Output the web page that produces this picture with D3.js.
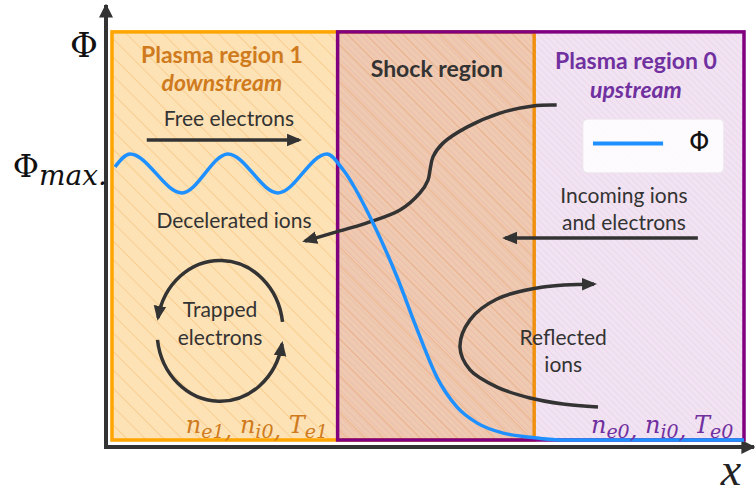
<!DOCTYPE html>
<html>
<head>
<meta charset="utf-8">
<script src="https://cdn.jsdelivr.net/npm/d3@7"></script>
<style>
  body { margin: 0; background: #fff; }
  svg { display: block; }
</style>
</head>
<body>
<script>
    // potential profile across the shock, x in % of the box, phi normalised to phi_max
    const phiX = [0.47, 2.85, 11.08, 18.35, 26.27, 34.0, 36.6, 41.3, 45.1, 48.3, 51.4, 54.6, 57.8, 61.9, 66.1, 70.9, 100];
    const phiY = [0.955, 1.0, 0.864, 1.0, 0.864, 1.0, 0.944, 0.759, 0.570, 0.385, 0.220, 0.115, 0.059, 0.024, 0.010, 0, 0];

    // regions (x extent of the two overlapping boxes)
    const downstreamBox = [0, 66.8];
    const upstreamBox = [35.7, 100];
    const boxTop = 1.427;

    const regionTitles = ["Plasma region 1", "Shock region", "Plasma region 0"];
    const regionSubtitles = ["downstream", "", "upstream"];
    const titleX = [17.4, 51.4, 82.9];
    const titleY = [1.318, 1.269, 1.297];
    const subtitleY = [1.220, 0, 1.196];

    // plain annotations
    const noteText = ["Free electrons", "Decelerated ions", "Trapped", "electrons",
                      "Incoming ions", "and electrons", "Reflected", "ions"];
    const noteX = [18.5, 19.3, 17.1, 17.1, 81.0, 81.0, 71.4, 71.4];
    const noteY = [1.098, 0.741, 0.430, 0.332, 0.829, 0.734, 0.332, 0.238];

    // arrows
    const freeArrow = [[5.5, 1.049], [29.6, 1.049]];
    const incomingArrow = [[92.7, 0.706], [62.2, 0.706]];
    const deceleratedArrow = [[70.36, 1.171], [66.61, 1.168], [61.39, 1.143], [56.17, 1.094], [52.37, 1.038],
        [50.79, 0.990], [50.32, 0.944], [50.0, 0.909], [48.73, 0.864], [45.57, 0.804], [40.35, 0.759],
        [34.97, 0.724], [30.54, 0.696]];
    const reflectedArrow = [[76.9, 0.115], [71.36, 0.126], [66.14, 0.147], [60.92, 0.185], [56.65, 0.245],
        [55.06, 0.325], [56.65, 0.420], [60.92, 0.493], [68.2, 0.535], [76.27, 0.545]];
    // trapped electrons loop: ellipse centre / radii and the two arcs
    const trapCentre = [17.09, 0.381];
    const trapRadii = [9.97, 0.245];
    const trapArcs = [[[26.98, 0.413], [7.28, 0.427]], [[7.2, 0.350], [26.9, 0.336]]];

    // plasma parameters: [symbol, subscript]
    const paramsDown = [["n", "e1"], ["n", "i0"], ["T", "e1"]];
    const paramsUp = [["n", "e0"], ["n", "i0"], ["T", "e0"]];
    const paramsRight = [34.2, 98.3];
    const paramsBase = 0.024;

    // legend
    const legendBox = [[74.5, 1.122], [96.8, 0.934]];
    const legendLine = [[76.1, 1.037], [87.2, 1.037]];

    const width = 756, height = 498;
    const orange = "#ffa500", purple = "#800080", dark = "#333333";
    const orangeText = "#cf7b1d", purpleText = "#7030a0", blue = "#1e90ff";
    const sans = "Lato, 'Open Sans', sans-serif";

    const x = d3.scaleLinear().domain([0, 100]).range([112, 744]);
    const y = d3.scaleLinear().domain([0, 1]).range([440, 154]);

    const svg = d3.select("body").append("svg")
        .attr("width", width)
        .attr("height", height);

    const defs = svg.append("defs");
    defs.append("pattern")
        .attr("id", "hatchOrange")
        .attr("patternUnits", "userSpaceOnUse")
        .attr("width", 13).attr("height", 13)
        .attr("patternTransform", "rotate(-45)")
        .append("line")
            .attr("x1", 0).attr("y1", 0).attr("x2", 0).attr("y2", 13)
            .attr("stroke", "#f7c27a").attr("stroke-width", 1.3);
    defs.append("pattern")
        .attr("id", "hatchPurple")
        .attr("patternUnits", "userSpaceOnUse")
        .attr("width", 4.5).attr("height", 4.5)
        .attr("patternTransform", "rotate(-45)")
        .append("line")
            .attr("x1", 0).attr("y1", 0).attr("x2", 0).attr("y2", 4.5)
            .attr("stroke", "rgba(128,0,128,0.07)").attr("stroke-width", 1.3);
    defs.append("marker")
        .attr("id", "head")
        .attr("viewBox", "0 0 10 10")
        .attr("refX", 8).attr("refY", 5)
        .attr("markerUnits", "userSpaceOnUse")
        .attr("markerWidth", 15).attr("markerHeight", 15)
        .attr("orient", "auto")
        .append("path")
            .attr("d", "M0,0.8 L10,5 L0,9.2 Z")
            .attr("fill", dark);
    defs.append("marker")
        .attr("id", "axisHead")
        .attr("viewBox", "0 0 10 10")
        .attr("refX", 9).attr("refY", 5)
        .attr("markerUnits", "userSpaceOnUse")
        .attr("markerWidth", 14).attr("markerHeight", 15)
        .attr("orient", "auto")
        .append("path")
            .attr("d", "M0,0 L10,5 L0,10 Z")
            .attr("fill", dark);

    // boxes
    drawBox(downstreamBox, "#fde2b6", "url(#hatchOrange)", orange);
    drawBox(upstreamBox, "rgba(128,0,128,0.11)", "url(#hatchPurple)", purple);

    function drawBox(ext, fill, hatch, stroke) {
        let r = { x: x(ext[0]), y: y(boxTop), w: x(ext[1]) - x(ext[0]), h: y(0) - y(boxTop) };
        svg.append("rect").attr("x", r.x).attr("y", r.y).attr("width", r.w).attr("height", r.h)
            .attr("fill", fill);
        svg.append("rect").attr("x", r.x).attr("y", r.y).attr("width", r.w).attr("height", r.h)
            .attr("fill", hatch);
        svg.append("rect").attr("x", r.x).attr("y", r.y).attr("width", r.w).attr("height", r.h)
            .attr("fill", "none").attr("stroke", stroke).attr("stroke-width", 3.5);
    }

    // axes
    svg.append("line")
        .attr("x1", x(0) - 6).attr("y1", y(0) + 9)
        .attr("x2", x(0) - 6).attr("y2", 5)
        .attr("stroke", dark).attr("stroke-width", 4)
        .attr("marker-end", "url(#axisHead)");
    svg.append("line")
        .attr("x1", x(0) - 8).attr("y1", y(0) + 7)
        .attr("x2", width - 2).attr("y2", y(0) + 7)
        .attr("stroke", dark).attr("stroke-width", 4)
        .attr("marker-end", "url(#axisHead)");

    svg.append("text")
        .attr("x", 84).attr("y", 57)
        .attr("text-anchor", "middle")
        .style("font", "34px 'DejaVu Serif', serif")
        .attr("fill", "#111")
        .text("Φ");
    let pm = svg.append("text")
        .attr("x", x(0) - 5).attr("y", y(0.92))
        .attr("text-anchor", "end")
        .style("font-family", "'DejaVu Serif', serif")
        .attr("fill", "#111");
    pm.append("tspan").style("font-size", "32px").text("Φ");
    pm.append("tspan").attr("dy", 8).style("font-size", "28px").style("font-style", "italic").text("max.");
    svg.append("text")
        .attr("x", 731).attr("y", 485)
        .attr("text-anchor", "middle")
        .style("font", "italic 46px 'Liberation Serif', serif")
        .attr("fill", "#222")
        .text("x");

    // titles
    regionTitles.forEach((t, i) => {
        let col = i === 0 ? orangeText : i === 2 ? purpleText : dark;
        svg.append("text")
            .attr("x", x(titleX[i])).attr("y", y(titleY[i]))
            .attr("text-anchor", "middle")
            .style("font", "bold 23px " + sans)
            .attr("fill", col)
            .text(t);
        if (regionSubtitles[i]) {
            svg.append("text")
                .attr("x", x(titleX[i])).attr("y", y(subtitleY[i]))
                .attr("text-anchor", "middle")
                .style("font", "italic bold 23px " + sans)
                .attr("fill", col)
                .text(regionSubtitles[i]);
        }
    });

    noteText.forEach((t, i) => {
        svg.append("text")
            .attr("x", x(noteX[i])).attr("y", y(noteY[i]))
            .attr("text-anchor", "middle")
            .style("font", "21px " + sans)
            .attr("fill", dark)
            .text(t);
    });

    // arrows
    let straight = d3.line().x(d => x(d[0])).y(d => y(d[1]));
    let smooth = d3.line().x(d => x(d[0])).y(d => y(d[1])).curve(d3.curveCatmullRom.alpha(0.5));
    [freeArrow, incomingArrow].forEach(a => {
        svg.append("path").attr("d", straight(a))
            .attr("fill", "none").attr("stroke", dark).attr("stroke-width", 3.5)
            .attr("marker-end", "url(#head)");
    });
    [deceleratedArrow, reflectedArrow].forEach(a => {
        svg.append("path").attr("d", smooth(a))
            .attr("fill", "none").attr("stroke", dark).attr("stroke-width", 3.5)
            .attr("marker-end", "url(#head)");
    });
    let rx = x(trapCentre[0] + trapRadii[0]) - x(trapCentre[0]);
    let ry = y(trapCentre[1]) - y(trapCentre[1] + trapRadii[1]);
    trapArcs.forEach(a => {
        let d = "M" + x(a[0][0]) + "," + y(a[0][1]) +
            " A" + rx + "," + ry + " 0 0 0 " + x(a[1][0]) + "," + y(a[1][1]);
        svg.append("path").attr("d", d)
            .attr("fill", "none").attr("stroke", dark).attr("stroke-width", 3.5)
            .attr("marker-end", "url(#head)");
    });

    // potential
    let phi = d3.line()
        .x((d, i) => x(phiX[i]))
        .y(d => y(d))
        .curve(d3.curveMonotoneX);
    svg.append("path")
        .attr("d", phi(phiY))
        .attr("fill", "none")
        .attr("stroke", blue)
        .attr("stroke-width", 3.5);

    // legend
    svg.append("rect")
        .attr("x", x(legendBox[0][0])).attr("y", y(legendBox[0][1]))
        .attr("width", x(legendBox[1][0]) - x(legendBox[0][0]))
        .attr("height", y(legendBox[1][1]) - y(legendBox[0][1]))
        .attr("rx", 5)
        .attr("fill", "rgba(255,255,255,0.85)")
        .attr("stroke", "#ece4ec");
    svg.append("path").attr("d", straight(legendLine))
        .attr("stroke", blue).attr("stroke-width", 4);
    svg.append("text")
        .attr("x", x(92.9)).attr("y", y(1.01))
        .attr("text-anchor", "middle")
        .style("font", "26px 'DejaVu Sans', sans-serif")
        .attr("fill", "#111")
        .text("Φ");

    // plasma parameters
    [[paramsDown, orangeText, paramsRight[0]], [paramsUp, purpleText, paramsRight[1]]].forEach(p => {
        let t = svg.append("text")
            .attr("x", x(p[2])).attr("y", y(paramsBase))
            .attr("text-anchor", "end")
            .style("font-family", "'DejaVu Serif', serif")
            .style("font-style", "italic")
            .attr("fill", p[1]);
        p[0].forEach((s, i) => {
            t.append("tspan").attr("dy", i === 0 ? 0 : -5).style("font-size", "24px").text(s[0]);
            t.append("tspan").attr("dy", 5).style("font-size", "19px").text(s[1]);
            if (i < p[0].length - 1) {
                t.append("tspan").attr("dy", 0).style("font-size", "24px").text(", ");
            }
        });
    });
</script>
</body>
</html>
